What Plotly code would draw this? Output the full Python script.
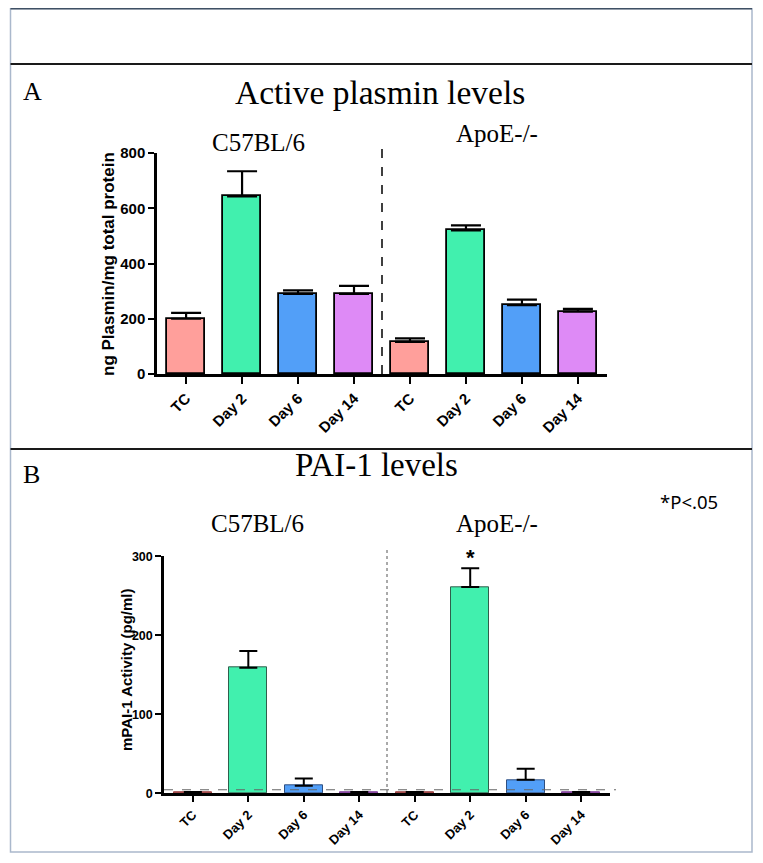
import plotly.graph_objects as go

# ---------------- data ----------------
days = ["TC", "Day 2", "Day 6", "Day 14"]
strains = ["C57BL/6", "ApoE-/-"]

plasmin_c57 = [200, 643, 290, 290]
plasmin_c57_err = [21, 91, 13, 29]
plasmin_apoe = [116, 520, 249, 226]
plasmin_apoe_err = [13, 18, 20, 10]

pai1_c57 = [1.5, 159, 9.6, 1.5]
pai1_c57_err = [None, 21, 9, None]
pai1_apoe = [1.5, 261, 17, 1.5]
pai1_apoe_err = [None, 24, 14, None]

plasmin_ticks = [0, 200, 400, 600, 800]
pai1_ticks = [0, 100, 200, 300]
pai1_detection_limit = 4.5

bar_colors = ["#ff9f9b", "#41f0ae", "#529ff8", "#de8af6"]
b_line_colors = ["#8a3030", "#2f5f4c", "#2f4f80", "#70308a"]

# ---------------- helpers ----------------
W, H = 763, 863
OFF = 8  # page body margin offsets the figure by 8px
def px(x):
    return (x - OFF) / W
def py(y):
    return 1 - (y - OFF) / H

labels = days * len(strains)
xpos = list(range(len(labels)))
sep = len(days) - 0.5

SERIF = "Liberation Serif"
SANS = "Liberation Sans"

fig = go.Figure()

# Panel A bars
fig.add_trace(go.Bar(
    x=xpos, y=plasmin_c57 + plasmin_apoe,
    width=0.68,
    marker=dict(color=bar_colors * 2, line=dict(color="black", width=1.8)),
    error_y=dict(type="data", symmetric=False,
                 array=plasmin_c57_err + plasmin_apoe_err,
                 arrayminus=[0] * 8, width=15, thickness=2.2, color="black"),
    xaxis="x", yaxis="y", showlegend=False,
))

# Panel B bars
fig.add_trace(go.Bar(
    x=xpos, y=pai1_c57 + pai1_apoe,
    width=0.68,
    marker=dict(color=bar_colors * 2, line=dict(color=b_line_colors * 2, width=1)),
    error_y=dict(type="data", symmetric=False,
                 array=pai1_c57_err + pai1_apoe_err,
                 arrayminus=[0] * 8, width=9, thickness=2, color="black"),
    xaxis="x2", yaxis="y2", showlegend=False,
))

axis_common = dict(showgrid=False, zeroline=False, showline=True, automargin=False,
                   linecolor="black", ticks="outside", tickcolor="black")

fig.update_layout(
    width=W, height=H,
    margin=dict(l=0, r=0, t=0, b=0, autoexpand=False),
    paper_bgcolor="white", plot_bgcolor="white",
    bargap=0,
    xaxis=dict(domain=[px(157), px(607)], range=[-0.52, 7.52], anchor="y",
               tickvals=xpos, ticktext=labels, tickangle=-45,
               linewidth=2.5, ticklen=7, tickwidth=2.2,
               tickfont=dict(family=SANS, size=15, color="black", weight="bold"),
               **axis_common),
    yaxis=dict(domain=[py(374), py(153)], range=[0, 800], anchor="x",
               tickvals=plasmin_ticks,
               linewidth=2.5, ticklen=6, tickwidth=2.2,
               tickfont=dict(family=SANS, size=15, color="black", weight="bold"),
               **axis_common),
    xaxis2=dict(domain=[px(164), px(610)], range=[-0.52, 7.52], anchor="y2",
                tickvals=xpos, ticktext=labels, tickangle=-45,
                linewidth=2.5, ticklen=6, tickwidth=2,
                tickfont=dict(family=SANS, size=13, color="black", weight="bold"),
                **axis_common),
    yaxis2=dict(domain=[py(793.3), py(556.3)], range=[0, 300], anchor="x2",
                tickvals=pai1_ticks,
                linewidth=2.5, ticklen=6, tickwidth=2,
                tickfont=dict(family=SANS, size=12.5, color="black", weight="bold"),
                **axis_common),
)

shapes = [
    # outer frame
    dict(type="rect", xref="paper", yref="paper", x0=px(10.5), x1=px(752),
         y0=py(852), y1=py(8.5), line=dict(color="#aab8cc", width=1.5)),
    dict(type="line", xref="paper", yref="paper", x0=px(10.5), x1=px(752),
         y0=py(8.5), y1=py(8.5), line=dict(color="#3f5064", width=2)),
    # section separators
    dict(type="line", xref="paper", yref="paper", x0=px(10.5), x1=px(752),
         y0=py(64), y1=py(64), line=dict(color="#1a1a1a", width=2)),
    dict(type="line", xref="paper", yref="paper", x0=px(10.5), x1=px(752),
         y0=py(449), y1=py(449), line=dict(color="#1a1a1a", width=2)),
    # group separators
    dict(type="line", xref="x", yref="paper", x0=sep, x1=sep,
         y0=py(374), y1=py(140), line=dict(color="black", width=1.5, dash="dash")),
    dict(type="line", xref="x2", yref="paper", x0=sep, x1=sep,
         y0=py(793), y1=py(547), line=dict(color="#555555", width=1, dash="dot")),
    # detection limit
    dict(type="line", xref="paper", yref="y2", x0=px(164), x1=px(616),
         y0=pai1_detection_limit, y1=pai1_detection_limit,
         line=dict(color="#666666", width=1, dash="dash")),
]
fig.update_layout(shapes=shapes)

ann = []
def text(x, y, s, family, size, xanchor="center", weight="normal", angle=0):
    ann.append(dict(xref="paper", yref="paper", x=px(x), y=py(y), text=s,
                    showarrow=False, xanchor=xanchor, yanchor="middle",
                    textangle=angle,
                    font=dict(family=family, size=size, color="black", weight=weight)))

text(21, 91, "A", SERIF, 26, xanchor="left")
text(380, 92, "Active plasmin levels", SERIF, 33.5)
text(258, 142, strains[0], SERIF, 25)
text(497, 133, strains[1], SERIF, 25)
text(108, 264, "ng Plasmin/mg total protein", SANS, 17, weight="bold", angle=-90)

text(21, 474, "B", SERIF, 26, xanchor="left")
text(376, 465, "PAI-1 levels", SERIF, 33)
text(257, 523, strains[0], SERIF, 25)
text(497, 523, strains[1], SERIF, 25)
text(126, 670, "mPAI-1 Activity (pg/ml)", SANS, 15, weight="bold", angle=-90)
text(689, 501, "*P<.05", "Noto Sans", 18.5)

fig.update_layout(annotations=ann)
# significance star above ApoE Day 2
fig.add_annotation(xref="x2", yref="y2", x=len(days) + 1, y=pai1_apoe[1] + pai1_apoe_err[1],
                   text="*", showarrow=False, yanchor="bottom", yshift=-4,
                   font=dict(family=SANS, size=22, color="black", weight="bold"))

fig.write_html("out.html")
